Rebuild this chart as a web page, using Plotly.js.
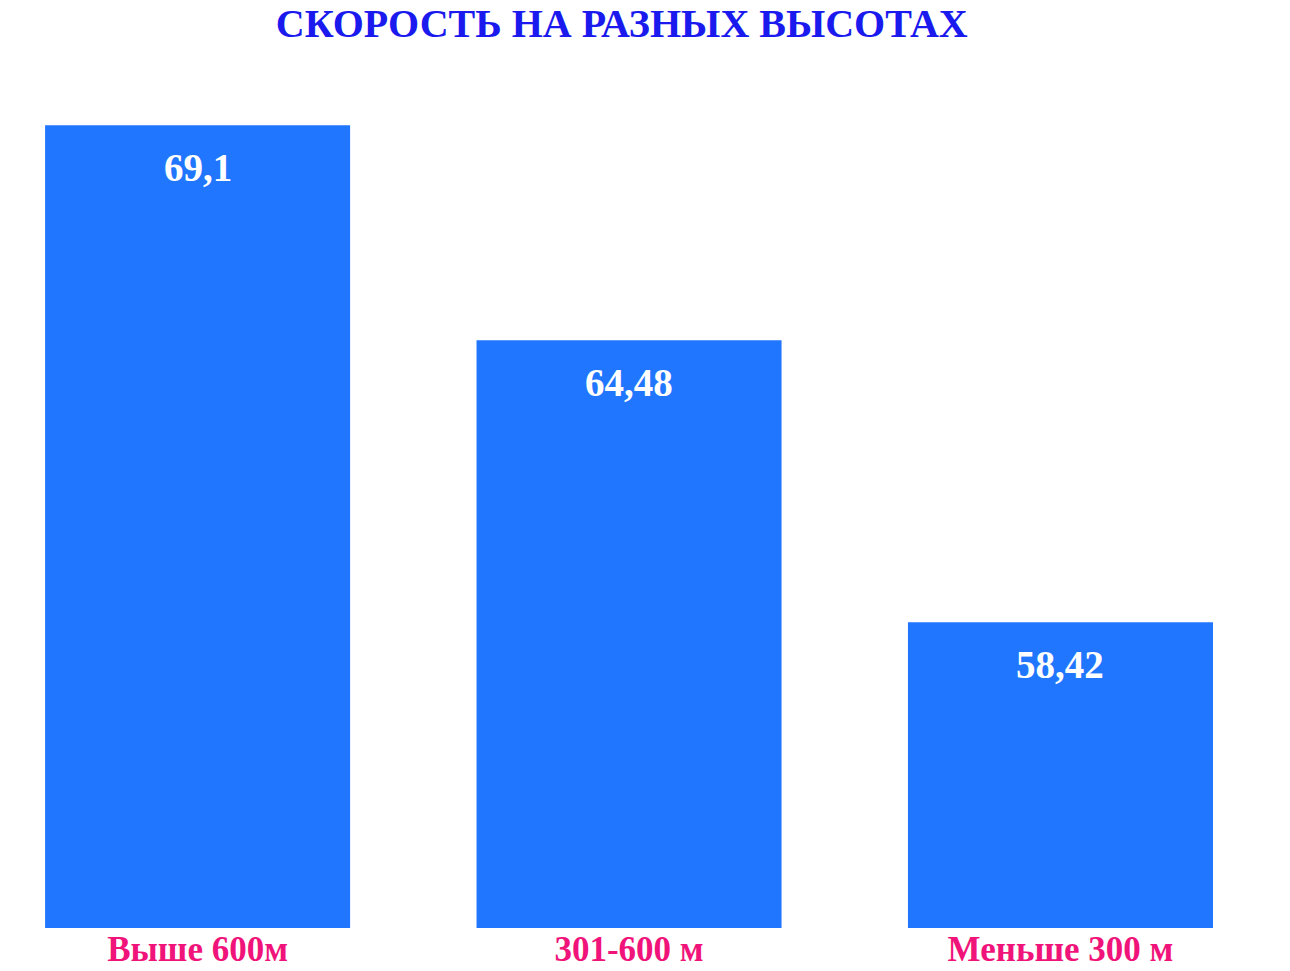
<!DOCTYPE html>
<html>
<head>
<meta charset="utf-8">
<script src="https://cdn.plot.ly/plotly-3.0.1.min.js"></script>
<style>
  html, body { margin: 0; padding: 0; background: #ffffff; }
  #plot { width: 1290px; height: 971px; }
</style>
</head>
<body>
<div id="plot"></div>
<script>
// Speed at different altitudes
var categories = ["Выше 600м", "301-600 м", "Меньше 300 м"];
var speeds = [69.1, 64.48, 58.42];

var trace = {
  x: categories,
  y: speeds,
  type: "bar",
  marker: { color: "#2176ff" },
  hoverinfo: "skip"
};

// value labels sit a bit below the top of each bar
var valueLabels = categories.map(function (c, i) {
  return {
    x: c,
    y: speeds[i],
    xref: "x",
    yref: "y",
    text: "<b>" + String(speeds[i]).replace(".", ",") + "</b>",
    showarrow: false,
    yanchor: "middle",
    yshift: -42,
    font: { family: "Liberation Serif", size: 39, color: "#ffffff" }
  };
});

var layout = {
  width: 1290,
  height: 971,
  showlegend: false,
  paper_bgcolor: "#ffffff",
  plot_bgcolor: "#ffffff",
  margin: { l: 0, r: 0, t: 60, b: 43 },
  bargap: 0.293,
  annotations: valueLabels,
  title: {
    text: "<b>СКОРОСТЬ НА РАЗНЫХ ВЫСОТАХ</b>",
    x: 0.482,
    xanchor: "center",
    y: 0.976,
    yanchor: "middle",
    font: { family: "Liberation Serif", size: 40, color: "#1a1aee" }
  },
  xaxis: {
    type: "category",
    range: [-0.458, 2.532],
    showgrid: false,
    zeroline: false,
    showline: false,
    ticks: "",
    ticklabelstandoff: -3,
    tickfont: { family: "Liberation Serif", size: 35, color: "#f0137a", weight: "bold" }
  },
  yaxis: {
    range: [51.85, 70.5],
    showgrid: false,
    zeroline: false,
    showline: false,
    showticklabels: false,
    ticks: ""
  }
};

Plotly.newPlot("plot", [trace], layout, { displayModeBar: false, staticPlot: true });
</script>
</body>
</html>
